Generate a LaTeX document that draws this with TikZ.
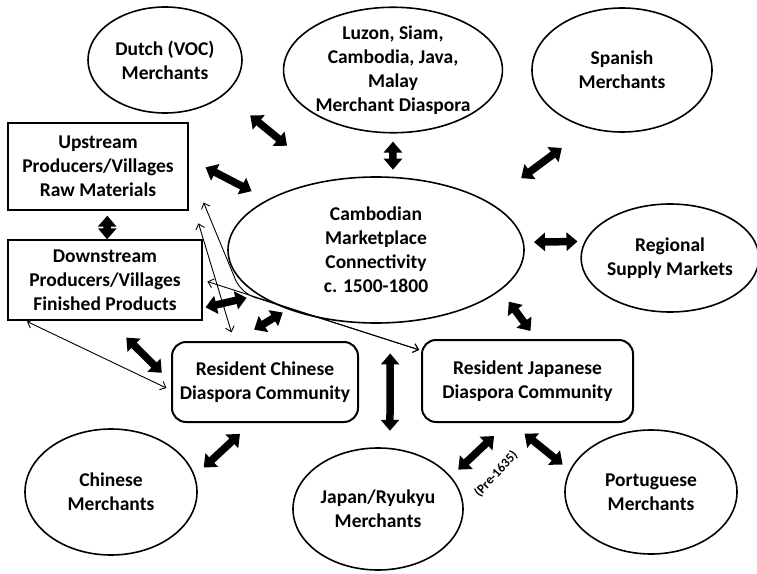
\documentclass[tikz,border=0pt]{standalone}
\usepackage{fontspec}
\setmainfont{Carlito}
\usepackage{tikz}
\usetikzlibrary{arrows.meta,shapes,positioning,calc}

\newcommand{\nodefont}{\fontsize{19.5bp}{24bp}\selectfont\bfseries}
\newcommand{\notefont}{\fontsize{13bp}{14bp}\selectfont\bfseries}

\begin{document}
\begin{tikzpicture}[x=1bp, y=-1bp,
                merchant/.style={ellipse, draw, line width=1.6bp, inner sep=0pt, align=center, font=\nodefont},
                village/.style={rectangle, draw, line width=1.3bp, inner sep=2pt, align=center, font=\nodefont},
                diaspora/.style={rectangle, rounded corners=14bp, draw, line width=2bp, inner sep=2pt, align=center, font=\nodefont},
                bigarrow/.style={line width=7.5bp, {Triangle[width=18bp,length=11bp]}-{Triangle[width=18bp,length=11bp]}},
                thinarrow/.style={line width=0.9bp, {Straight Barb[length=5bp,width=9bp]}-{Straight Barb[length=5bp,width=9bp]}}
            ]
\useasboundingbox (0,0) rectangle (757,574);

% --- top row of merchants ---
                \node[merchant, minimum width=154bp, minimum height=106bp] (dutch)   at (165,60)  {Dutch (VOC)\\Merchants};
                \node[merchant, minimum width=210bp, minimum height=124bp] (luzon)   at (393,70)  {Luzon, Siam,\\Cambodia, Java,\\Malay\\Merchant Diaspora};
                \node[merchant, minimum width=180bp, minimum height=124bp] (spanish) at (622,70)  {Spanish\\Merchants};

% --- producers on the left ---
                \node[village, minimum width=180bp, minimum height=87bp] (upstream)   at (98,166.5) {Upstream\\Producers/Villages\\Raw Materials};
                \node[village, minimum width=194bp, minimum height=80bp] (downstream) at (105,280)  {Downstream\\Producers/Villages\\Finished Products};

% --- the marketplace in the middle ---
                \node[merchant, minimum width=296bp, minimum height=146bp] (camb)     at (376,250) {Cambodian\\Marketplace\\Connectivity\\c. 1500-1800};
                \node[merchant, minimum width=170bp, minimum height=108bp] (regional) at (670,258) {Regional\\Supply Markets};

% --- resident communities ---
                \node[diaspora, minimum width=186bp, minimum height=80bp] (chinres) at (265,382)   {Resident Chinese\\Diaspora Community};
                \node[diaspora, minimum width=211bp, minimum height=82bp] (japres)  at (527.5,381) {Resident Japanese\\Diaspora Community};

% --- bottom row of merchants ---
                \node[merchant, minimum width=172bp, minimum height=126bp] (chinmer) at (111,492) {Chinese\\Merchants};
                \node[merchant, minimum width=170bp, minimum height=122bp] (japmer)  at (378,509) {Japan/Ryukyu\\Merchants};
                \node[merchant, minimum width=172bp, minimum height=124bp] (portmer) at (651,492) {Portuguese\\Merchants};

                \coordinate (upbend) at (241,293);   % where the upstream line meets the downstream one

% --- thick two-way links ---
                \draw[bigarrow, shorten <=33bp, shorten >=54bp] (dutch.-30)      -- (camb.124);
                \draw[bigarrow, shorten <=19bp, shorten >=18bp] (upstream.5)     -- (camb.155);
                \draw[bigarrow, shorten <=8bp,  shorten >=7bp]  (luzon.south)    -- (camb.77);
                \draw[bigarrow, shorten <=33bp, shorten >=40bp] (spanish.240)    -- (camb.23);
                \draw[bigarrow, shorten <=7bp,  shorten >=10bp] (regional.169)   -- (camb.3);
                \draw[bigarrow, shorten <=5bp,  shorten >=0bp]  (upstream.-78)   -- (downstream.87);
                \draw[bigarrow, shorten <=3bp,  shorten >=12bp] (downstream.-16) -- (camb.201);
                \draw[bigarrow, shorten <=22bp, shorten >=6bp]  (chinres.126)    -- (camb.214);
                \draw[bigarrow, shorten <=24bp, shorten >=13bp] (downstream.-84) -- (chinres.west);
                \draw[bigarrow, shorten <=10bp, shorten >=14bp] (japres.78)      -- (camb.-18);
                \draw[bigarrow, shorten <=30bp, shorten >=17bp] (camb.-79)       -- (japmer.79);
                \draw[bigarrow, shorten <=16bp, shorten >=12bp] (chinres.-108)   -- (chinmer.11);
                \draw[bigarrow, shorten <=19bp, shorten >=10bp] (japres.-115)    -- (japmer.24);
                \draw[bigarrow, shorten <=17bp, shorten >=9bp]  (japres.-111)    -- (portmer.165);

% --- thin links ---
                \draw[thinarrow, shorten <=2bp,  shorten >=5bp] (downstream.-153) -- (chinres.-175);
                \draw[thinarrow, shorten <=5bp,  shorten >=2bp] (downstream.east) -- (japres.164);
                \draw[thinarrow, shorten <=34bp, shorten >=9bp] (upstream.-15)    -- (chinres.127);
                \draw[thinarrow, rounded corners=14bp, shorten <=39bp, shorten >=2bp] (upstream.east) -- (upbend) -- (japres.164);

                \node[font=\notefont, rotate=47, inner sep=0pt] (pre) at (496,474) {(Pre-1635)};

\end{tikzpicture}
\end{document}
